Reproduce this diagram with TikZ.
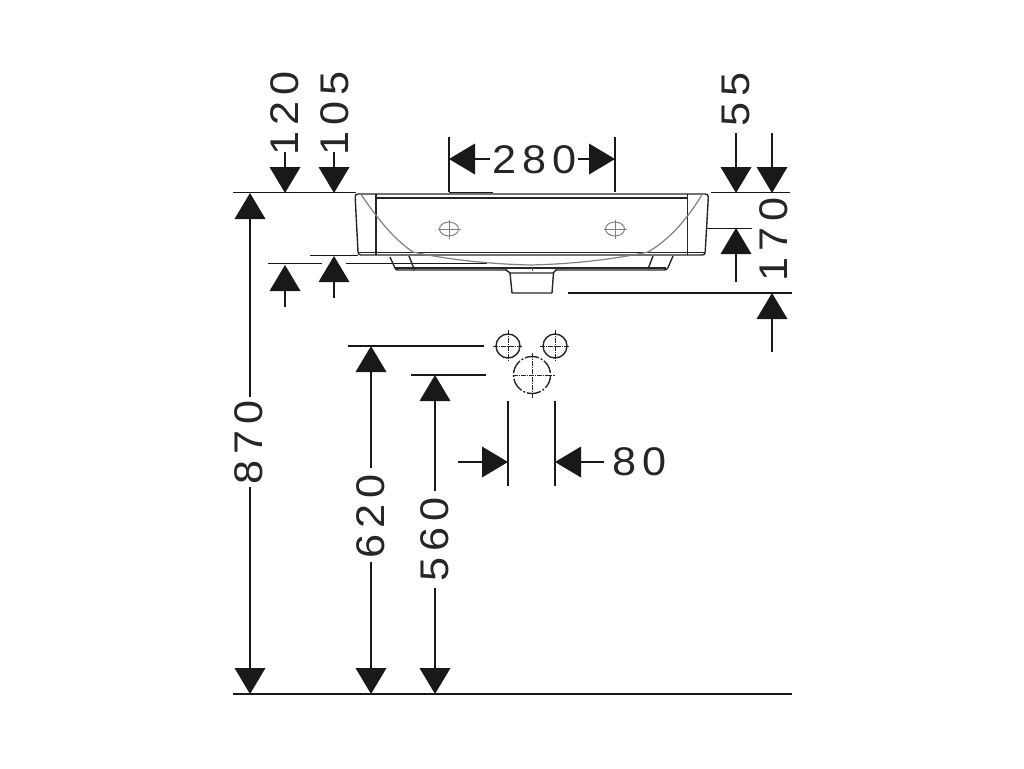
\documentclass[tikz,border=0pt]{standalone}
\usepackage{fontspec}
\setmainfont{Liberation Sans}
\newfontfamily\dimfont[LetterSpace=15,FakeStretch=1.08]{Liberation Sans}
\tikzset{
  dimline/.style={line width=1.15pt,draw=black!90},
  sinkline/.style={line width=1.4pt,draw=black!85,line join=round},
  greyline/.style={line width=1.2pt,draw=black!50},
  holeline/.style={line width=1.4pt,draw=black!85},
  holeaxis/.style={line width=1pt,draw=black!85,dash pattern=on 5pt off 1pt on 1pt off 1pt},
  dimtext/.style={font=\fontsize{40}{40}\dimfont,inner sep=0pt,text=black!85},
  vtext/.style={dimtext,rotate=90}
}
\newcommand{\arup}[2]{\fill[black!90] (#1,#2) -- ++(15.5,26) -- ++(-31,0) -- cycle;}
\newcommand{\ardown}[2]{\fill[black!90] (#1,#2) -- ++(15.5,-26) -- ++(-31,0) -- cycle;}
\newcommand{\arleft}[2]{\fill[black!90] (#1,#2) -- ++(26,15.5) -- ++(0,-31) -- cycle;}
\newcommand{\arright}[2]{\fill[black!90] (#1,#2) -- ++(-26,15.5) -- ++(0,-31) -- cycle;}
\begin{document}
\begin{tikzpicture}[x=1pt,y=-1pt]
\useasboundingbox (0,0) rectangle (1024,768);
% extension lines
\draw[dimline] (233,192.5) -- (356,192.5);
\draw[dimline] (233,694) -- (792,694);
\draw[dimline] (449,192.5) -- (493,192.5);
\draw[dimline] (711,192.5) -- (790,192.5);
\draw[dimline] (707,228.5) -- (752,228.5);
\draw[dimline] (568,293) -- (792,293);
\draw[dimline] (310,255.5) -- (358,255.5);
\draw[dimline] (268,263.5) -- (322,263.5);
\draw[dimline] (346,263.5) -- (487,263.5);
\draw[dimline] (348,346) -- (484,346);
\draw[dimline] (411,375) -- (486,375);
\draw[dimline] (449,137) -- (449,192);
\draw[dimline] (615,137) -- (615,192);
\draw[dimline] (508,401) -- (508,486);
\draw[dimline] (555,401) -- (555,486);
% 870
\arup{250}{193}\ardown{250}{694}
\draw[dimline] (250,215) -- (250,397);
\draw[dimline] (250,487) -- (250,670);
\node[vtext] (t870) at (249,442) {870};
% 620
\arup{371}{346}\ardown{371}{694}
\draw[dimline] (371,370) -- (371,468);
\draw[dimline] (371,562) -- (371,670);
\node[vtext] (t620) at (371,516) {620};
% 560
\arup{435}{375}\ardown{435}{694}
\draw[dimline] (435,399) -- (435,491);
\draw[dimline] (435,588) -- (435,670);
\node[vtext] (t560) at (435,539.5) {560};
% 120 105
\ardown{285}{193}\ardown{334}{193}
\draw[dimline] (285,152) -- (285,170);
\draw[dimline] (334,152) -- (334,170);
\node[vtext] (t120) at (285,113) {120};
\node[vtext] (t105) at (335,113) {105};
\arup{285}{265}\arup{334}{256}
\draw[dimline] (285,288) -- (285,307);
\draw[dimline] (334,279) -- (334,298);
% 280
\arleft{449}{159}\arright{615}{159}
\draw[dimline] (472,159) -- (490,159);
\draw[dimline] (578,159) -- (592,159);
\node[dimtext] (t280) at (535,160) {280};
% 55
\ardown{736}{193}\ardown{772}{193}
\draw[dimline] (736,133) -- (736,170);
\draw[dimline] (772,133) -- (772,170);
\node[vtext] (t55) at (736,99) {55};
% 170
\arup{736}{228}\arup{772}{293}
\draw[dimline] (736,250) -- (736,282);
\draw[dimline] (772,315) -- (772,352);
\node[vtext] (t170) at (774,239.5) {170};
% 80
\arright{508}{462}\arleft{555}{462}
\draw[dimline] (458,462) -- (486,462);
\draw[dimline] (577,462) -- (604,462);
\node[dimtext] (t80) at (639.5,462) {80};
% sink
\draw[sinkline] (358,194) -- (705,194) .. controls (707.5,194) and (708.5,195) .. (708.3,197.5)
  -- (705.2,252) .. controls (705,254.5) and (704,255) .. (702,255) -- (361,255)
  .. controls (359,255) and (358.3,254) .. (358,252) -- (355.2,197.5)
  .. controls (355,195) and (356,194) .. (358,194) -- cycle;
\draw[sinkline] (376,198) -- (687.5,198);
\draw[sinkline] (358,252.5) -- (705,252.5);
\draw[sinkline] (376,194) -- (376,255);
\draw[sinkline] (687.5,194) -- (687.5,255);
% lugs and waste
\draw[sinkline] (390,257) -- (394.5,267) .. controls (395.5,269.5) and (396,270) .. (398,270) -- (506,270);
\draw[sinkline] (409,256) -- (414.5,270);
\draw[sinkline] (395,268) -- (506,268);
\draw[sinkline] (653,256) -- (648,269);
\draw[sinkline] (673,256) -- (668,267.5) .. controls (667,269.5) and (666,270) .. (664,270) -- (556,270);
\draw[sinkline] (556,268) -- (666,268);
\draw[sinkline] (506,268) -- (506,270) -- (510,273) -- (553,273) -- (556,270) -- (556,268);
\draw[sinkline] (506,268) -- (556,268);
\draw[sinkline] (510,273) -- (512,293) -- (552,293) -- (553.5,273);
\draw[line width=0.8pt,draw=black!70] (532,268) -- (532,271);
% grey bowl curve
\draw[greyline] (360,193) .. controls (375,215) and (392,238) .. (413,252)
  .. controls (450,260) and (490,264) .. (530,265) .. controls (575,264) and (615,259) .. (648,252)
  .. controls (672,238) and (690,215) .. (703,193);
% tap holes, top view
\foreach \cx in {449,615}{
  \draw[line width=1pt,draw=black!50] (\cx,229) ellipse [x radius=9.5,y radius=7];
  \draw[line width=1pt,draw=black!50] (\cx-11.5,229) -- (\cx+11.5,229) (\cx,220) -- (\cx,239);
}
% wall holes
\draw[holeline] (508,346) circle [radius=12];
\draw[holeline] (555,346) circle [radius=12];
\draw[holeline,dash pattern=on 14pt off 2pt on 2pt off 2pt] (532,375) circle [radius=18.5];
\draw[holeaxis] (493,346) -- (523,346) (508,330) -- (508,362);
\draw[holeaxis] (540,346) -- (570,346) (555,330) -- (555,362);
\draw[holeaxis] (513,375) -- (555,375) (532,353) -- (532,399);
\end{tikzpicture}
\end{document}
